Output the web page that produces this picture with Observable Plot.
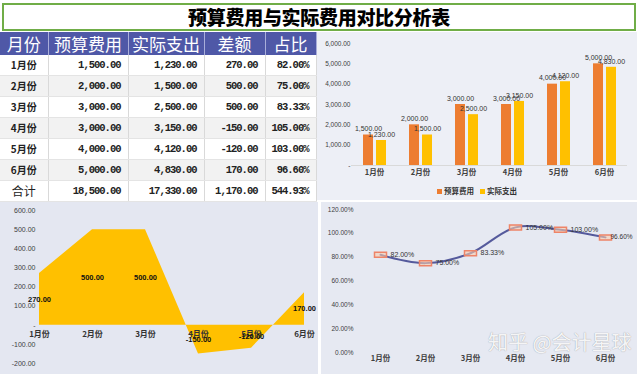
<!DOCTYPE html>
<html><head><meta charset="utf-8">
<script src="https://cdn.jsdelivr.net/npm/d3@7"></script>
<script src="https://cdn.jsdelivr.net/npm/@observablehq/plot@0.6"></script>
<style>
html,body{margin:0;padding:0;background:#fff;}
#root{position:relative;width:640px;height:374px;overflow:hidden;font-family:"Noto Sans CJK SC",sans-serif;}
.title{position:absolute;left:2px;top:3px;width:630px;height:24px;border:2px solid #70AD47;background:#fff;
  text-align:center;line-height:24px;font-size:19px;font-weight:900;color:#000;letter-spacing:-0.3px;}
table{position:absolute;left:0;top:32px;width:316px;border-collapse:collapse;table-layout:fixed;}
th{background:#4F58A7;color:#fff;font-weight:400;font-size:17px;height:23px;line-height:23px;padding:0;
  border-right:1px solid #A9AEDA;white-space:nowrap;overflow:hidden;}
td{height:20px;line-height:20px;padding:0 7px 0 0;text-align:right;font-family:"Liberation Mono",monospace;font-weight:bold;
  font-size:10.5px;letter-spacing:-1px;color:#222;border-right:1px solid #D9D9D9;border-bottom:1px solid #E4E4E4;white-space:nowrap;overflow:hidden;}
td.m{text-align:center;padding:0;font-family:"Noto Sans CJK SC",sans-serif;font-size:10px;letter-spacing:0;}
td.t{font-weight:400;font-size:12px;}
tr.even td{background:#F2F2F2;}
tr.odd td{background:#FFFFFF;}
.panel{position:absolute;}
.legend{display:flex;justify-content:center;align-items:center;gap:6px;height:18px;line-height:18px;font-size:7.5px;color:#333;font-weight:bold;}
.legend span.sw{display:inline-block;width:5px;height:5px;margin-right:2px;}
.wm{position:absolute;left:488px;top:330px;font-size:20px;line-height:24px;color:rgba(255,255,255,0.93);
  text-shadow:0 0 1px rgba(0,0,0,0.4);white-space:nowrap;font-weight:400;}
</style></head>
<body><div id="root"></div>
<script>
const titleText = "预算费用与实际费用对比分析表";
const headers = ["月份","预算费用","实际支出","差额","占比"];
const months = ["1月份","2月份","3月份","4月份","5月份","6月份"];
const budget = [1500, 2000, 3000, 3000, 4000, 5000];
const actual = [1230, 1500, 2500, 3150, 4120, 4830];
const diffs = [270, 500, 500, -150, -120, 170];
const ratios = [0.82, 0.75, 0.8333, 1.05, 1.03, 0.966];
const totalLabel = "合计";
const seriesNames = ["预算费用","实际支出"];
const barTicks = [0,1000,2000,3000,4000,5000,6000];
const areaTicks = [-200,-100,0,100,200,300,400,500,600];
const lineTicks = [0,0.2,0.4,0.6,0.8,1.0,1.2];
const watermark = "知乎 @会计星球";

const loc = d3.formatLocale({decimal:".", thousands:",", grouping:[3], currency:["",""], minus:"-"});
const fnum = loc.format(",.2f");
const fpct = loc.format(".2%");
const ftick = d => d === 0 ? "-" : fnum(d);

const root = document.getElementById("root");

// Title
const t = document.createElement("div");
t.className = "title"; t.textContent = titleText; root.appendChild(t);

// Table
const widths = [48, 80, 76, 61, 51];
const table = document.createElement("table");
const cg = document.createElement("colgroup");
widths.forEach(w => { const c = document.createElement("col"); c.style.width = w + "px"; cg.appendChild(c); });
table.appendChild(cg);
const hr = document.createElement("tr");
headers.forEach(h => { const th = document.createElement("th"); th.textContent = h; hr.appendChild(th); });
table.appendChild(hr);
const rows = months.map((m, i) => [m, fnum(budget[i]), fnum(actual[i]), fnum(diffs[i]), fpct(ratios[i])]);
rows.push([totalLabel, fnum(d3.sum(budget)), fnum(d3.sum(actual)), fnum(d3.sum(diffs)), fpct(d3.sum(ratios))]);
rows.forEach((r, i) => {
  const tr = document.createElement("tr");
  tr.className = i % 2 ? "even" : "odd";
  r.forEach((v, j) => {
    const td = document.createElement("td"); td.textContent = v;
    if (j === 0) td.className = i === rows.length - 1 ? "m t" : "m";
    tr.appendChild(td);
  });
  table.appendChild(tr);
});
root.appendChild(table);

// Bar chart panel
const barData = months.flatMap((m, i) => [
  {month: m, series: seriesNames[0], value: budget[i]},
  {month: m, series: seriesNames[1], value: actual[i]}
]);
const barColors = ["#ED7D31", "#FFC000"];
const barPanel = document.createElement("div");
barPanel.className = "panel";
Object.assign(barPanel.style, {left:"317px", top:"32px", width:"320px", height:"168px", background:"#EDEFF6"});
const barPlot = Plot.plot({
  width: 320, height: 150, marginLeft: 33, marginRight: 9, marginTop: 11, marginBottom: 17,
  style: {background: "transparent", fontFamily: "Liberation Sans", fontSize: "6.5px", color: "#404040"},
  fx: {domain: months, padding: 0, label: null},
  x: {domain: seriesNames, paddingInner: 0.25, paddingOuter: 0.82, axis: null},
  y: {domain: [0, 6000], label: null},
  color: {domain: seriesNames, range: barColors},
  marks: [
    Plot.ruleY([0], {stroke: "#D9D9D9"}),
    Plot.barY(barData, {fx: "month", x: "series", y: "value", fill: "series"}),
    Plot.text(barData, {fx: "month", x: "series", y: "value", text: d => fnum(d.value), dy: -6, fontSize: 7, fill: "#333"}),
    Plot.axisY({ticks: barTicks, tickFormat: ftick, tickSize: 0, tickPadding: 1, label: null, fontSize: 6.5}),
    Plot.axisFx({anchor: "bottom", tickSize: 0, tickPadding: 4, label: null, fontSize: 7.5, fontWeight: "bold", fontFamily: "Noto Sans CJK SC"})
  ]
});
barPanel.appendChild(barPlot);
const legend = document.createElement("div");
legend.className = "legend";
seriesNames.forEach((s, i) => {
  const it = document.createElement("span");
  it.innerHTML = `<span class="sw" style="background:${barColors[i]}"></span>${s}`;
  legend.appendChild(it);
});
barPanel.appendChild(legend);
root.appendChild(barPanel);

// Area chart panel
const areaData = months.map((m, i) => ({month: m, diff: diffs[i]}));
const areaPanel = document.createElement("div");
areaPanel.className = "panel";
Object.assign(areaPanel.style, {left:"0px", top:"202px", width:"318px", height:"172px", background:"#E4E7F1"});
const areaPlot = Plot.plot({
  width: 318, height: 172, marginLeft: 38, marginRight: 14, marginTop: 8, marginBottom: 11,
  style: {background: "transparent", fontFamily: "Liberation Sans", fontSize: "7px", color: "#404040"},
  x: {type: "point", domain: months, padding: 0, axis: null},
  y: {domain: [-200, 600], axis: null},
  marks: [
    Plot.areaY(areaData, {x: "month", y: "diff", fill: "#FFC000"}),
    Plot.axisY({ticks: areaTicks, tickFormat: ftick, tickSize: 0, tickPadding: 3, label: null, fontSize: 7}),
    Plot.text(months, {x: d => d, y: () => 0, dy: 9, text: d => d, fontSize: 8, fontWeight: "bold", fill: "#333", fontFamily: "Noto Sans CJK SC"}),
    Plot.text(areaData, {x: "month", y: d => d.diff / 2, text: d => fnum(d.diff), fontSize: 7.5, fontWeight: "bold", fill: "#111"})
  ]
});
areaPanel.appendChild(areaPlot);
root.appendChild(areaPanel);

// Line chart panel
const lineData = months.map((m, i) => ({month: m, ratio: ratios[i]}));
const linePanel = document.createElement("div");
linePanel.className = "panel";
Object.assign(linePanel.style, {left:"321px", top:"202px", width:"316px", height:"172px", background:"#E6E9F2"});
const rectSymbol = {draw(ctx) { ctx.rect(-6, -2.5, 12, 5); }};
const linePlot = Plot.plot({
  width: 316, height: 172, marginLeft: 35, marginRight: 8, marginTop: 7, marginBottom: 22,
  style: {background: "transparent", fontFamily: "Liberation Sans", fontSize: "6.5px", color: "#404040"},
  x: {type: "point", domain: months, padding: 0.5, label: null},
  y: {domain: [0, 1.2], label: null},
  marks: [
    Plot.axisY({ticks: lineTicks, tickFormat: fpct, tickSize: 0, tickPadding: 3, label: null, fontSize: 6.5}),
    Plot.axisX({tickSize: 0, tickPadding: 3, label: null, fontSize: 7.5, fontWeight: "bold", fontFamily: "Noto Sans CJK SC"}),
    Plot.line(lineData, {x: "month", y: "ratio", stroke: "#555A9C", strokeWidth: 2, curve: "catmull-rom"}),
    Plot.dot(lineData, {x: "month", y: "ratio", symbol: rectSymbol, fill: "#F8CBAD", fillOpacity: 0.6, stroke: "#EE8468", strokeWidth: 1.5}),
    Plot.text(lineData.slice(0, 5), {x: "month", y: "ratio", text: d => fpct(d.ratio), dx: 10, textAnchor: "start", fontSize: 7, fill: "#333"}),
    Plot.text(lineData.slice(5), {x: "month", y: "ratio", text: d => fpct(d.ratio), dx: 5, textAnchor: "start", fontSize: 6.5, fill: "#333"})
  ]
});
linePanel.appendChild(linePlot);
root.appendChild(linePanel);

const wm = document.createElement("div");
wm.className = "wm"; wm.textContent = watermark; root.appendChild(wm);
</script>
</body></html>
